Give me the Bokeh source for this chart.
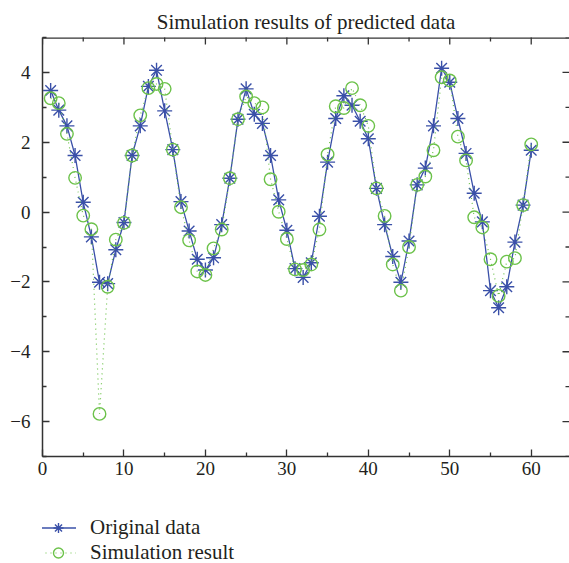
from bokeh.plotting import figure
from bokeh.layouts import column
from bokeh.models import LinearAxis, FixedTicker, Legend, LegendItem, Range1d, Span
from bokeh.embed import file_html
from bokeh.resources import INLINE
import math

x = list(range(1, 61))
original = [3.48, 2.92, 2.47, 1.62, 0.28, -0.71, -2.01, -2.05, -1.08, -0.30,
            1.62, 2.47, 3.60, 4.06, 2.90, 1.79, 0.30, -0.54, -1.35, -1.66,
            -1.31, -0.36, 0.97, 2.66, 3.53, 2.80, 2.54, 1.62, 0.35, -0.52,
            -1.62, -1.87, -1.45, -0.12, 1.43, 2.68, 3.33, 3.06, 2.60, 2.10,
            0.68, -0.36, -1.27, -2.01, -0.83, 0.78, 1.26, 2.47, 4.12, 3.72,
            2.68, 1.68, 0.54, -0.28, -2.25, -2.74, -2.14, -0.86, 0.20, 1.77]
simulated = [3.26, 3.12, 2.24, 0.98, -0.10, -0.49, -5.78, -2.14, -0.79, -0.31,
             1.62, 2.77, 3.55, 3.67, 3.53, 1.79, 0.14, -0.81, -1.70, -1.80,
             -1.04, -0.50, 0.97, 2.66, 3.31, 3.12, 3.00, 0.94, 0.01, -0.77,
             -1.64, -1.66, -1.50, -0.50, 1.65, 3.03, 2.98, 3.55, 3.06, 2.47,
             0.68, -0.11, -1.50, -2.25, -1.00, 0.78, 1.02, 1.77, 3.86, 3.77,
             2.16, 1.48, -0.15, -0.44, -1.35, -2.40, -1.42, -1.32, 0.20, 1.94]
x_major = [0, 10, 20, 30, 40, 50, 60]
x_minor = [5, 15, 25, 35, 45, 55, 65]
y_major = [-6, -4, -2, 0, 2, 4]
y_minor = [-7, -5, -3, -1, 1, 3, 5]
y_labels = {-6: "\u22126", -4: "\u22124", -2: "\u22122", 0: "0", 2: "2", 4: "4"}
X_START, X_END = 0, 64.7
Y_START, Y_END = -7, 5

FONT = "Liberation Serif"
BLUE = "#3a50a8"
GREEN = "#6cc24a"
AX = "#333333"
TXT = "#231f20"

p = figure(width=569, height=490, output_backend="svg", toolbar_location=None,
           x_range=Range1d(X_START, X_END), y_range=Range1d(Y_START, Y_END),
           x_axis_location=None, y_axis_location=None,
           min_border_left=42, min_border_right=0, min_border_top=37,
           min_border_bottom=34)
p.grid.visible = False
p.outline_line_color = None
p.background_fill_color = "white"

p.title.text = "Simulation results of predicted data"
p.title.align = "center"
p.title.text_font = FONT
p.title.text_font_style = "normal"
p.title.text_font_size = "21px"
p.title.text_color = TXT
p.title.standoff = 8

def style(ax, standoff):
    ax.axis_line_color = AX
    ax.axis_line_width = 1.5
    ax.major_tick_line_color = AX
    ax.minor_tick_line_color = AX
    ax.major_tick_line_width = 1.3
    ax.minor_tick_line_width = 1.3
    ax.major_tick_in = 7
    ax.major_tick_out = 0
    ax.minor_tick_in = 4
    ax.minor_tick_out = 0
    ax.major_label_text_font = FONT
    ax.major_label_text_font_size = "19px"
    ax.major_label_text_color = TXT
    ax.major_label_standoff = standoff

xt = FixedTicker(ticks=x_major, minor_ticks=x_minor)
yt = FixedTicker(ticks=y_major, minor_ticks=y_minor)

bottom = LinearAxis(ticker=xt)
style(bottom, 5)
left = LinearAxis(ticker=yt, major_label_overrides=y_labels)
style(left, 12)
p.add_layout(bottom, "below")
p.add_layout(left, "left")

# top frame line and mirrored ticks (top and right)
p.add_layout(Span(location=Y_END, dimension="width", line_color=AX, line_width=2.5))
p.scatter(x_major, [Y_END] * len(x_major), marker="dash", angle=math.pi / 2, size=14,
          line_color=AX, line_width=1.3)
p.scatter(x_minor, [Y_END] * len(x_minor), marker="dash", angle=math.pi / 2, size=8,
          line_color=AX, line_width=1.3)
p.scatter([X_END] * len(y_major), y_major, marker="dash", size=14,
          line_color=AX, line_width=1.3)
p.scatter([X_END] * len(y_minor), y_minor, marker="dash", size=8,
          line_color=AX, line_width=1.3)

p.line(x, original, line_color=BLUE, line_width=1.3)
p.scatter(x, original, marker="asterisk", size=15, line_color=BLUE, line_width=1.4)
p.line(x, simulated, line_color=GREEN, line_width=1.2, line_dash="1 4")
p.scatter(x, simulated, marker="circle", size=12.5, line_color=GREEN,
          fill_color=None, line_width=1.4)

# legend panel below the chart (its renderers lie outside its visible range)
q = figure(width=569, height=73, output_backend="svg", toolbar_location=None,
           x_range=Range1d(-3, -2), y_range=Range1d(0, 1),
           x_axis_location=None, y_axis_location=None,
           min_border=0)
q.grid.visible = False
q.outline_line_color = None
k1 = q.line(x, original, line_color=BLUE, line_width=1.3)
k2 = q.scatter(x, original, marker="asterisk", size=15, line_color=BLUE, line_width=1.4)
k3 = q.line(x, simulated, line_color=GREEN, line_width=1.2, line_dash="1 4")
k4 = q.scatter(x, simulated, marker="circle", size=12.5, line_color=GREEN,
               fill_color=None, line_width=1.4)
legend = Legend(items=[LegendItem(label="Original data", renderers=[k1, k2]),
                       LegendItem(label="Simulation result", renderers=[k3, k4])],
                location=(-2, -2), padding=0, margin=0, spacing=0,
                label_height=25, glyph_height=25, glyph_width=36,
                label_standoff=14, label_text_font=FONT,
                label_text_font_size="21px", label_text_color=TXT,
                border_line_color=None, background_fill_alpha=0)
q.add_layout(legend, "center")

layout = column(p, q, spacing=0)
open("out.html", "w").write(file_html(layout, INLINE))
